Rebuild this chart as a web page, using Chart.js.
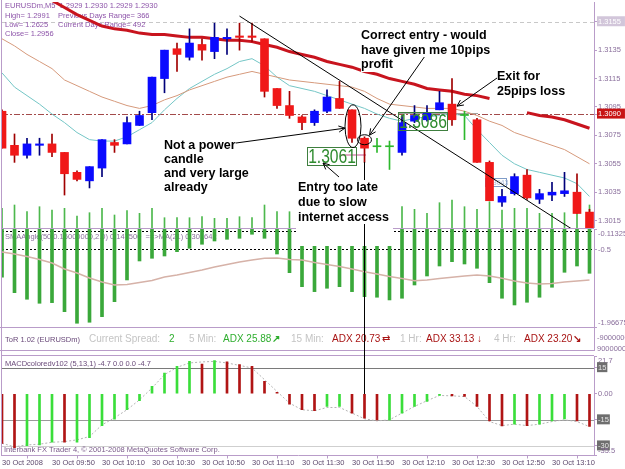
<!DOCTYPE html>
<html>
<head>
<meta charset="utf-8">
<script src="https://cdn.jsdelivr.net/npm/chart.js@4.4.1/dist/chart.umd.min.js"></script>
<style>
  body { margin: 0; background: #fff; }
  #wrap { position: relative; width: 625px; height: 469px; overflow: hidden; background: #fff;
          font-family: 'Liberation Sans', Arial, sans-serif; }
  #wrap canvas { position: absolute; left: 0; }
  .note { position: absolute; z-index: 3; color: #000; font-weight: bold; font-size: 12.5px;
          line-height: 14px; white-space: nowrap; }
  .note div { width: max-content; background: #fff; }
  #tor { position: absolute; left: 0; top: 327px; width: 595px; height: 24px; box-sizing: border-box;
         border-top: 1px solid #b99cc9; border-bottom: 1px solid #b99cc9; border-right: 1px solid #b99cc9; }
  #tor span { position: absolute; top: 5px; font-size: 10px; line-height: 12px; white-space: nowrap; }
  .gray { color: #c4c4c4; }
  .grn { color: #2fae2f; }
  .dred { color: #a81414; }
  .axl { position: absolute; left: 597px; font-size: 7.5px; color: #8a6f9c; white-space: nowrap; }
</style>
</head>
<body>
<div id="wrap">
  <canvas id="cMain" width="625" height="228" style="top:0"></canvas>
  <canvas id="cSma" width="625" height="100" style="top:228px"></canvas>
  <div id="tor">
    <span style="left:5px;top:6px;font-size:7.5px;color:#6a4a7a">ToR 1.02 (EURUSDm)</span>
    <span class="gray" style="left:89px">Current Spread:</span>
    <span class="grn" style="left:169px">2</span>
    <span class="gray" style="left:189px">5 Min:</span>
    <span class="grn" style="left:223px">ADX 25.88</span>
    <span class="grn" style="left:272px;font-weight:bold">&#8599;</span>
    <span class="gray" style="left:291px">15 Min:</span>
    <span class="dred" style="left:332px">ADX 20.73</span>
    <span class="dred" style="left:382px">&#8644;</span>
    <span class="gray" style="left:400px">1 Hr:</span>
    <span class="dred" style="left:426px">ADX 33.13</span>
    <span class="dred" style="left:477px;font-weight:bold">&#8595;</span>
    <span class="gray" style="left:494px">4 Hr:</span>
    <span class="dred" style="left:524px">ADX 23.20</span>
    <span class="dred" style="left:573px;font-weight:bold">&#8600;</span>
  </div>
  <div class="axl" style="top:333px">-9000000</div>
  <div class="axl" style="top:344px">9000000</div>
  <canvas id="cMacd" width="625" height="115" style="top:354px"></canvas>

  <div id="cover" style="position:absolute;left:296px;top:180px;width:97px;height:66px;background:#fff;z-index:1"></div>
  <div id="vline" style="position:absolute;width:1px;background:#000;z-index:2"></div>
  <div style="position:absolute;left:1px;top:0;width:1px;height:456px;background:#b99cc9;z-index:4"></div>

  <div class="note" style="left:164px;top:138px">
    <div>Not a power</div><div>candle</div><div>and very large</div><div>already</div>
  </div>
  <div class="note" style="left:361px;top:28px;line-height:14.5px">
    <div>Correct entry - would</div><div>have given me 10pips</div><div>profit</div>
  </div>
  <div class="note" style="left:497px;top:69px;line-height:15px">
    <div>Exit for</div><div>25pips loss</div>
  </div>
  <div class="note" style="left:298px;top:180px;line-height:14.8px;background:#fff">
    <div>Entry too late</div><div>due to slow</div><div>internet access</div>
  </div>
</div>

<script>
// ---- data (EURUSDm M5, 30 Oct 2008) ----
const timeLabels = ['30 Oct 2008', '30 Oct 09:50', '30 Oct 10:10', '30 Oct 10:30', '30 Oct 10:50', '30 Oct 11:10',
                    '30 Oct 11:30', '30 Oct 11:50', '30 Oct 12:10', '30 Oct 12:30', '30 Oct 12:50', '30 Oct 13:10'];
const barsPerLabel = 4;

const open  = [1.3092, 1.3068, 1.3061, 1.3068, 1.3069, 1.3063, 1.3049, 1.3043, 1.3052, 1.3070,
               1.3069, 1.3082, 1.3091, 1.3115, 1.3136, 1.3130, 1.3139, 1.3134, 1.3143, 1.3145,
               1.3145, 1.3143, 1.3108, 1.3096, 1.3088, 1.3084, 1.3092, 1.3101, 1.3093, 1.3073,
               1.3067, 1.3067, 1.3063, 1.3085, 1.3086, 1.3093, 1.3097, 1.3089, 1.3086, 1.3056,
               1.3028, 1.3034, 1.3047, 1.3030, 1.3033, 1.3034, 1.3035, 1.3021];
const high  = [1.3093, 1.3076, 1.3073, 1.3073, 1.3076, 1.3063, 1.3050, 1.3053, 1.3072, 1.3072,
               1.3088, 1.3092, 1.3116, 1.3135, 1.3140, 1.3150, 1.3143, 1.3154, 1.3150, 1.3154,
               1.3154, 1.3143, 1.3108, 1.3106, 1.3089, 1.3093, 1.3107, 1.3113, 1.3093, 1.3074,
               1.3073, 1.3071, 1.3089, 1.3096, 1.3096, 1.3106, 1.3115, 1.3092, 1.3087, 1.3057,
               1.3037, 1.3048, 1.3051, 1.3037, 1.3042, 1.3049, 1.3048, 1.3023];
const low   = [1.3066, 1.3056, 1.3059, 1.3061, 1.3060, 1.3033, 1.3043, 1.3038, 1.3046, 1.3063,
               1.3069, 1.3082, 1.3086, 1.3105, 1.3120, 1.3128, 1.3128, 1.3129, 1.3132, 1.3135,
               1.3141, 1.3102, 1.3094, 1.3087, 1.3079, 1.3082, 1.3091, 1.3094, 1.3070, 1.3056,
               1.3063, 1.3051, 1.3061, 1.3084, 1.3085, 1.3093, 1.3082, 1.3072, 1.3056, 1.3029,
               1.3025, 1.3033, 1.3030, 1.3027, 1.3029, 1.3032, 1.3020, 1.3004];
const close = [1.3066, 1.3061, 1.3069, 1.3069, 1.3063, 1.3048, 1.3044, 1.3053, 1.3072, 1.3068,
               1.3084, 1.3089, 1.3116, 1.3135, 1.3132, 1.3140, 1.3135, 1.3144, 1.3144, 1.3144,
               1.3144, 1.3106, 1.3096, 1.3089, 1.3084, 1.3092, 1.3102, 1.3094, 1.3073, 1.3066,
               1.3067, 1.3067, 1.3084, 1.3089, 1.3091, 1.3098, 1.3086, 1.3089, 1.3056, 1.3029,
               1.3032, 1.3046, 1.3031, 1.3034, 1.3035, 1.3036, 1.3020, 1.3006];

// moving averages on the price pane (null = hidden behind the pasted text)
const maSlow = [null, null, null, 1.3175, 1.3170, 1.3165, 1.3160, 1.3156, 1.3152, 1.3150,
                1.3149, 1.3147, 1.3146, 1.3146, 1.3145, 1.3144, 1.3144, 1.3143, 1.3142, 1.3142,
                1.3141, 1.3139, 1.3137, 1.3134, 1.3132, 1.3130, 1.3127, 1.3125, 1.3123, 1.3120,
                1.3118, 1.3115, 1.3113, 1.3111, 1.3108, 1.3107, 1.3106, 1.3104, 1.3103, 1.3101,
                null, null, 1.3091, 1.3089, 1.3088, 1.3086, 1.3083, 1.3080];
const maMid  = [1.3143, 1.3138, 1.3132, 1.3127, 1.3122, 1.3114, 1.3110, 1.3106, 1.3102, 1.3099,
                1.3096, 1.3094, 1.3096, 1.3100, 1.3103, 1.3107, 1.3110, 1.3113, 1.3116, 1.3118,
                1.3120, 1.3118, 1.3116, 1.3114, 1.3113, 1.3112, 1.3111, 1.3110, 1.3109, 1.3106,
                1.3101, 1.3097, 1.3096, 1.3095, 1.3094, 1.3094, 1.3094, 1.3092, 1.3089, 1.3085,
                1.3082, 1.3077, 1.3074, 1.3071, 1.3068, 1.3065, 1.3060, 1.3055];
const maFast = [1.3119, 1.3109, 1.3103, 1.3097, 1.3090, 1.3084, 1.3077, 1.3072, 1.3071, 1.3071,
                1.3074, 1.3079, 1.3084, 1.3093, 1.3101, 1.3108, 1.3113, 1.3118, 1.3122, 1.3127,
                1.3129, 1.3124, 1.3116, 1.3110, 1.3108, 1.3106, 1.3103, 1.3100, 1.3097, 1.3094,
                1.3090, 1.3087, 1.3085, 1.3087, 1.3088, 1.3089, 1.3090, 1.3089, 1.3079, 1.3070,
                1.3061, 1.3055, 1.3051, 1.3049, 1.3047, 1.3045, 1.3041, 1.3032];
// thin green bars along the bottom of the price pane
const paneHist = [19.7, 23, 16.3, 21.3, 18, 19.7, 12, 15.3, 19.7, 13,
                  17.3, 14.7, 19.7, 10.3, 10.3, 10.3, 11.3, 9.7, 9.7, 11.3,
                  10.3, 23, 16.3, 16.3, null, null, null, null, null, null,
                  null, null, 21.3, 18.7, 14.7, 25.3, 28, 21.3, 18.7, 26.3,
                  18, 19.7, 19.7, 14.7, 14.7, 15.3, 18, 23];
const trendIdx = [19, 45.6];
const trendPrice = [1.3159, 1.3009];

const priceTicks = [1.3155, 1.3135, 1.3115, 1.3095, 1.3075, 1.3055, 1.3035, 1.3015];
const bidPrice = 1.3090;
const refPrice = 1.3155;
const priceTags = [{ text: '1.3061', left: 307, top: 147 }, { text: '1.3086', left: 398, top: 112 }];

const smaAngle = [-1.026, -1.317, -1.442, -1.518, -1.506, -1.677, -1.896, -1.877, -1.771, -1.488,
                  -1.077, -0.718, -0.667, -0.624, -0.542, -0.478, -0.402, -0.340, -0.308, -0.289,
                  -0.213, -0.289, -0.586, -0.939, -1.204, -1.298, -1.234, -1.204, -1.298, -1.393,
                  -1.404, -1.455, -1.423, -1.172, -1.002, -0.813, -0.731, -0.775, -0.856, -1.128,
                  -1.423, -1.550, -1.499, -1.404, -1.215, -0.932, -0.813, -0.951];
const smaSignal = [-0.548, -0.586, -0.633, -0.690, -0.756, -0.869, -0.945, -1.039, -1.115, -1.172,
                   -1.162, -1.125, -1.087, -1.021, -0.983, -0.936, -0.888, -0.832, -0.784, -0.737,
                   -0.699, -0.667, -0.661, -0.690, -0.699, -0.747, -0.784, -0.822, -0.869, -0.920,
                   -0.964, -1.011, -1.049, -1.090, -1.077, -1.049, -1.026, -1.002, -0.983, -1.002,
                   -1.045, -1.096, -1.134, -1.153, -1.143, -1.115, -1.096, -1.077];
const smaTicks = [-0.11325, -0.5, -1.96675];
const smaLevels = [-0.15, -0.5];

const macdHist = [-28.5, -31.0, -29.8, -29.4, -27.9, -27.9, -27.9, -25.2, -18.3, -14.6,
                  -9.2, -4.0, 4.2, 11.9, 15.8, 18.6, 17.1, 19.0, 18.3, 16.7,
                  15.8, 7.1, 0.8, -6.0, -9.2, -9.8, -7.3, -7.3, -11.2, -14.0,
                  -15.0, -15.0, -11.2, -7.3, -4.4, -1.0, -1.2, -1.5, -7.3, -15.6,
                  -18.5, -17.5, -18.3, -17.5, -15.6, -14.4, -15.6, -18.8];
const macdSignal = [-28.5, -30.5, -29.4, -29.0, -27.9, -27.5, -26.5, -24.6, -17.9, -13.8,
                    -9.2, -3.5, 3.3, 11.0, 15.2, 17.7, 18.3, 18.6, 17.7, 16.3,
                    14.8, 8.1, 1.3, -5.4, -9.2, -9.8, -7.9, -7.9, -11.1, -14.4,
                    -15.6, -15.0, -11.1, -7.3, -4.0, -1.0, -1.2, -1.6, -7.3, -16.0,
                    -18.3, -17.5, -18.3, -17.5, -16.0, -15.0, -16.0, -18.9];
const macdTrend = ['dn', 'dn', 'up', 'up', 'up', 'dn', 'up', 'up', 'up', 'up',
                   'up', 'up', 'up', 'up', 'up', 'up', 'dn', 'up', 'dn', 'dn',
                   'dn', 'dn', 'dn', 'dn', 'dn', 'dn', 'up', 'up', 'dn', 'dn',
                   'dn', 'up', 'up', 'up', 'up', 'up', 'dn', 'dn', 'dn', 'dn',
                   'dn', 'up', 'dn', 'up', 'up', 'up', 'dn', 'dn'];
const macdTicks = [21.7, 15, 0, -15, -30, -35.5];
const macdLevels = [15, -15, -30];
const entryBar = 29;

// ---- setup ----
Chart.defaults.font.family = "'Liberation Sans', Arial, sans-serif";
Chart.defaults.plugins.legend.display = false;
Chart.defaults.plugins.tooltip.enabled = false;

const purple = '#b99cc9';
const axisText = '#8a6f9c';
const xMin = 0, xMax = 47.36;
const idx = open.map((_, i) => i);
const pts = arr => arr.map((v, i) => ({ x: i, y: v }));

const bodyCol = idx.map(i => close[i] > open[i] ? '#0a0aff' : close[i] < open[i] ? '#f01818' : '#2db82d');
const wickCol = idx.map(i => close[i] > open[i] ? '#00007a' : close[i] < open[i] ? '#a00000' : '#2db82d');

function rightAxis(min, max, tickVals, callback, extraTicks) {
    return {
        position: 'right', min: min, max: max, beginAtZero: false,
        afterFit(s) { s.width = 31; s.paddingTop = 0; s.paddingBottom = 0; },
        afterBuildTicks(s) { s.ticks = tickVals.map(v => ({ value: v })); },
        grid: { drawOnChartArea: false, tickLength: 3, color: purple },
        border: { color: purple },
        ticks: Object.assign({ autoSkip: false, padding: 1, color: axisText, font: { size: 7.5 }, callback: callback }, extraTicks || {})
    };
}

function hline(ctx, a, yy, color, dash) {
    ctx.save();
    ctx.strokeStyle = color;
    ctx.lineWidth = 1;
    ctx.setLineDash(dash || []);
    const p = Math.round(yy) + 0.5;
    ctx.beginPath(); ctx.moveTo(a.left, p); ctx.lineTo(a.right, p); ctx.stroke();
    ctx.restore();
}

function arrow(ctx, x1, y1, x2, y2) {
    const ang = Math.atan2(y2 - y1, x2 - x1);
    ctx.beginPath();
    ctx.moveTo(x1, y1); ctx.lineTo(x2, y2);
    [-0.45, 0.45].forEach(s => {
        ctx.moveTo(x2, y2);
        ctx.lineTo(x2 - 7 * Math.cos(ang + s), y2 - 7 * Math.sin(ang + s));
    });
    ctx.stroke();
}

// price tag: outlined box, no fill, condensed green text
function tag(ctx, t) {
    const w = 50, h = 19;
    ctx.save();
    ctx.strokeStyle = '#3f7f3f'; ctx.lineWidth = 1;
    ctx.strokeRect(t.left + 0.5, t.top + 0.5, w - 1, h - 1);
    ctx.translate(t.left + w / 2, t.top + h / 2 + 1);
    ctx.scale(0.78, 1);
    ctx.font = "20px 'Liberation Sans'";
    ctx.fillStyle = '#2e8b2e'; ctx.textAlign = 'center'; ctx.textBaseline = 'middle';
    ctx.fillText(t.text, 0, 0);
    ctx.restore();
}

// price pane decorations: header text, levels, tags, circles and arrows
const mainDecor = {
    id: 'mainDecor',
    beforeDatasetsDraw(chart) {
        const { ctx, chartArea: a, scales: { y } } = chart;
        hline(ctx, a, y.getPixelForValue(refPrice), '#c8c8c8', [4, 3]);
        hline(ctx, a, y.getPixelForValue(bidPrice), '#a34a4a', [6, 2, 2, 2]);

        ctx.save();
        ctx.fillStyle = '#8e55aa';
        ctx.font = "7.5px 'Liberation Sans'";
        ctx.textBaseline = 'middle';
        ctx.fillText('EURUSDm,M5  1.2929 1.2930 1.2929 1.2930', 5, 6);
        ctx.fillText('High= 1.2991', 5, 16);
        ctx.fillText('Previous Days Range= 366', 58, 16);
        ctx.fillText('Low= 1.2625', 5, 25);
        ctx.fillText('Current Days Range= 492', 58, 25);
        ctx.fillText('Close= 1.2956', 5, 34);

        // small gray segment and pink stub near the tags
        ctx.strokeStyle = '#a0a0a0';
        ctx.beginPath(); ctx.moveTo(398, 113.5); ctx.lineTo(478, 113.5); ctx.stroke();
        ctx.strokeStyle = '#e4a8c8'; ctx.lineWidth = 2;
        ctx.beginPath(); ctx.moveTo(340, 155); ctx.lineTo(366, 155); ctx.stroke();
        // small price label
        ctx.lineWidth = 1;
        ctx.fillStyle = '#fff'; ctx.fillRect(485, 178, 22, 9);
        ctx.strokeStyle = '#7f9cc8'; ctx.strokeRect(485.5, 178.5, 21, 8);
        ctx.fillStyle = '#a6b6d6'; ctx.font = "7px 'Liberation Sans'";
        ctx.fillText('1.3043', 487, 183);
        ctx.restore();
    },
    afterDatasetsDraw(chart) {
        const { ctx, scales: { x, y } } = chart;
        priceTags.forEach(t => tag(ctx, t));
        ctx.save();
        ctx.strokeStyle = '#000';
        ctx.lineWidth = 1;
        const x28 = x.getPixelForValue(28);
        const t28 = y.getPixelForValue(high[28]), b28 = y.getPixelForValue(low[28]);
        const c28 = (t28 + b28) / 2;
        ctx.beginPath(); ctx.ellipse(x28 + 1, c28, 8, (b28 - t28) / 2 + 5, 0, 0, Math.PI * 2); ctx.stroke();
        const x29 = x.getPixelForValue(entryBar), o29 = y.getPixelForValue(open[entryBar]);
        ctx.beginPath(); ctx.ellipse(x29, o29 + 1.5, 7, 5, 0, 0, Math.PI * 2); ctx.stroke();
        const x36 = x.getPixelForValue(36), o36 = y.getPixelForValue(open[36]);

        arrow(ctx, 236, 143, x28 - 7, c28 + 2);
        arrow(ctx, 425, 56, x29 + 5, o29 - 3);
        arrow(ctx, 497, 78, x36 + 5, o36 + 2);
        arrow(ctx, 339, 177, 323, 163);
        ctx.restore();
    }
};

const mainChart = new Chart(document.getElementById('cMain'), {
    type: 'bar',
    data: {
        datasets: [
            { type: 'line', data: trendIdx.map((v, k) => ({ x: v, y: trendPrice[k] })), borderColor: '#000',
              borderWidth: 1, pointRadius: 0, order: 0 },
            { data: idx.map(i => ({ x: i, y: [open[i], close[i]] })), backgroundColor: bodyCol,
              barThickness: 8, minBarLength: 1, grouped: false, order: 1 },
            { data: idx.map(i => ({ x: i, y: [low[i], high[i]] })), backgroundColor: wickCol,
              barThickness: 1, grouped: false, order: 2 },
            { type: 'line', data: pts(maSlow), borderColor: '#c8141e', borderWidth: 3, pointRadius: 0, order: 3 },
            { type: 'line', data: pts(maMid), borderColor: '#d69a7c', borderWidth: 1, pointRadius: 0, order: 4 },
            { type: 'line', data: pts(maFast), borderColor: '#74c6c6', borderWidth: 1, pointRadius: 0, order: 5 },
            { data: pts(paneHist), yAxisID: 'yv', backgroundColor: '#4db84d', barThickness: 1, grouped: false, order: 6 }
        ]
    },
    options: {
        responsive: false,
        animation: false,
        layout: { padding: { left: 2, top: 2, right: 0, bottom: 0 } },
        scales: {
            x: { type: 'linear', min: xMin, max: xMax, offset: false, display: false },
            y: rightAxis(1.30098, 1.31689, priceTicks.concat([bidPrice]), v => v.toFixed(4), {
                showLabelBackdrop: true,
                backdropPadding: { top: 1, bottom: 0, left: 1, right: 4 },
                backdropColor: c => c.tick.value === bidPrice ? '#c81414' : c.tick.value === refPrice ? '#d2c6da' : 'rgba(0,0,0,0)',
                color: c => (c.tick.value === bidPrice || c.tick.value === refPrice) ? '#fff' : axisText
            }),
            yv: { display: false, min: 0, max: 226 }
        }
    },
    plugins: [mainDecor]
});

// SMAAngle pane
const smaDecor = {
    id: 'smaDecor',
    beforeDatasetsDraw(chart) {
        const { ctx, chartArea: a, scales: { y } } = chart;
        smaLevels.forEach(v => hline(ctx, a, y.getPixelForValue(v), '#000', [2, 2]));
        hline(ctx, a, 0, purple);
        ctx.save();
        ctx.fillStyle = '#8a6f9c';
        ctx.font = "7.5px 'Liberation Sans'";
        ctx.textBaseline = 'middle';
        ctx.fillText('SMAAngle(50,0.15000000,2.0) 0.147500  ==>MA(21) 0.301642', 5, 9);
        ctx.restore();
    }
};

new Chart(document.getElementById('cSma'), {
    type: 'bar',
    data: {
        datasets: [
            { type: 'line', data: pts(smaSignal), borderColor: '#d6b2a8', borderWidth: 1.5, pointRadius: 0, order: 0 },
            { data: pts(smaAngle), backgroundColor: '#3aa83a', barThickness: 3, grouped: false, order: 1 }
        ]
    },
    options: {
        responsive: false,
        animation: false,
        layout: { padding: { left: 2, top: 1, right: 0, bottom: 1 } },
        scales: {
            x: { type: 'linear', min: xMin, max: xMax, offset: false, display: false },
            y: rightAxis(-1.96675, -0.11325, smaTicks,
                v => v === smaTicks[0] ? ['', String(v)] : v === smaTicks[smaTicks.length - 1] ? [String(v), ''] : String(v))
        }
    },
    plugins: [smaDecor]
});

// MACD pane
const macdDecor = {
    id: 'macdDecor',
    beforeDatasetsDraw(chart) {
        const { ctx, chartArea: a, scales: { y } } = chart;
        const levelCols = ['#7a7a7a', '#9a9a9a', '#cfcfcf'];
        macdLevels.forEach((v, k) => hline(ctx, a, y.getPixelForValue(v), levelCols[k]));
        hline(ctx, a, 1, purple);
        ctx.save();
        ctx.fillStyle = '#6a4a7a';
        ctx.font = "7.5px 'Liberation Sans'";
        ctx.textBaseline = 'middle';
        ctx.fillText('MACDcoloredv102 (5,13,1) -4.7 0.0 0.0 -4.7', 5, 10);
        ctx.restore();
    },
    afterDatasetsDraw(chart) {
        const { ctx } = chart;
        ctx.save();
        ctx.fillStyle = '#7a5a8a';
        ctx.font = "7.5px 'Liberation Sans'";
        ctx.textBaseline = 'middle';
        ctx.fillText('Interbank FX Trader 4, \u00a9 2001-2008 MetaQuotes Software Corp.', 4, 96);
        ctx.restore();
    }
};

const macdChart = new Chart(document.getElementById('cMacd'), {
    type: 'bar',
    data: {
        datasets: [
            { type: 'line', data: pts(macdSignal), borderColor: '#b4b4b4', borderWidth: 1, borderDash: [2, 2],
              pointRadius: 0, order: 1 },
            { data: pts(macdHist), backgroundColor: macdTrend.map(t => t === 'up' ? '#3ade3a' : '#b01414'),
              barThickness: 2, grouped: false, order: 0 }
        ]
    },
    options: {
        responsive: false,
        animation: false,
        layout: { padding: { left: 2, top: 2, right: 0, bottom: 0 } },
        scales: {
            x: {
                type: 'linear', min: xMin, max: xMax, offset: false,
                afterBuildTicks(s) { s.ticks = timeLabels.map((_, k) => ({ value: k * barsPerLabel })); },
                afterFit(s) { s.height = 13.5; s.paddingLeft = 0; s.paddingRight = 0; },
                grid: { drawOnChartArea: false, tickLength: 3, color: purple },
                border: { color: purple },
                ticks: { autoSkip: false, maxRotation: 0, align: 'start', padding: 0, font: { size: 7.5 },
                         color: '#5f4b6e', callback: (v, k) => timeLabels[k] }
            },
            y: rightAxis(-35.5, 21.7, macdTicks,
                v => v === macdTicks[0] ? ['', String(v)] : v === macdTicks[macdTicks.length - 1] ? [String(v), ''] : v === 0 ? '0.00' : String(v), {
                showLabelBackdrop: true,
                backdropPadding: { top: 1, bottom: 0, left: 1, right: 1 },
                backdropColor: c => macdLevels.includes(c.tick.value) ? '#6e6e6e' : 'rgba(0,0,0,0)',
                color: c => macdLevels.includes(c.tick.value) ? '#e8e8e8' : axisText
            })
        }
    },
    plugins: [macdDecor]
});

// black marker line from the late-entry candle down to the MACD zero line
const vline = document.getElementById('vline');
const vx = Math.floor(mainChart.scales.x.getPixelForValue(entryBar));
const vTop = mainChart.scales.y.getPixelForValue(low[entryBar]);
const vBot = 354 + macdChart.scales.y.getPixelForValue(0);
vline.style.left = vx + 'px';
vline.style.top = vTop + 'px';
vline.style.height = (vBot - vTop) + 'px';
</script>
</body>
</html>
